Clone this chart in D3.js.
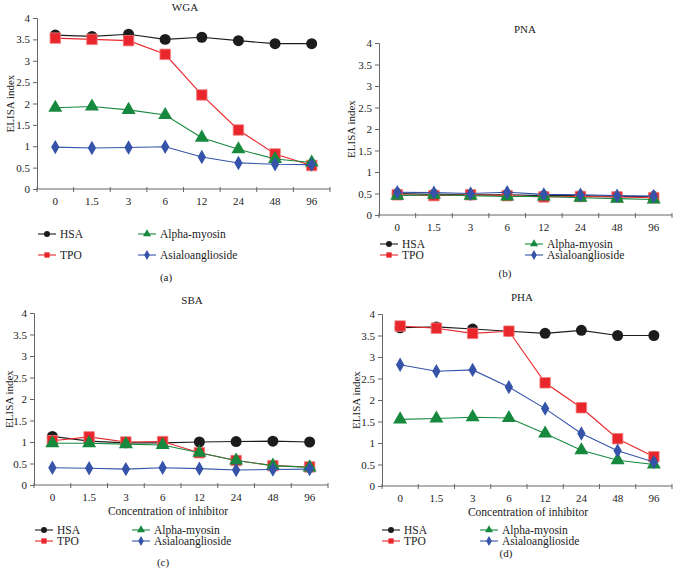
<!DOCTYPE html>
<html>
<head>
<script src="https://d3js.org/d3.v7.min.js"></script>
<style>
  body { margin: 0; background: #fff; }
  text { font-family: "Liberation Serif", "DejaVu Serif", serif; fill: #222; }
</style>
</head>
<body>
<svg width="675" height="578"></svg>
<script>
var categories = ["0", "1.5", "3", "6", "12", "24", "48", "96"];
var yTicks = [0, 0.5, 1, 1.5, 2, 2.5, 3, 3.5, 4];
var seriesNames = ["HSA", "TPO", "Alpha-myosin", "Asialoanglioside"];

// WGA
var wgaHSA   = [3.60, 3.57, 3.62, 3.50, 3.55, 3.47, 3.40, 3.40];
var wgaTPO   = [3.53, 3.50, 3.47, 3.15, 2.20, 1.38, 0.82, 0.55];
var wgaAlpha = [1.90, 1.93, 1.85, 1.73, 1.20, 0.93, 0.70, 0.62];
var wgaAsia  = [0.98, 0.96, 0.97, 0.99, 0.75, 0.61, 0.58, 0.57];
// PNA
var pnaHSA   = [0.50, 0.48, 0.47, 0.47, 0.45, 0.45, 0.43, 0.43];
var pnaTPO   = [0.47, 0.45, 0.47, 0.45, 0.42, 0.43, 0.42, 0.40];
var pnaAlpha = [0.45, 0.47, 0.45, 0.43, 0.43, 0.40, 0.38, 0.36];
var pnaAsia  = [0.53, 0.52, 0.50, 0.53, 0.48, 0.47, 0.45, 0.44];
// SBA
var sbaHSA   = [1.13, 1.02, 0.98, 0.98, 1.00, 1.01, 1.02, 1.00];
var sbaTPO   = [1.03, 1.12, 1.00, 1.01, 0.75, 0.57, 0.45, 0.42];
var sbaAlpha = [0.97, 0.97, 0.95, 0.93, 0.75, 0.57, 0.45, 0.41];
var sbaAsia  = [0.40, 0.39, 0.37, 0.40, 0.38, 0.35, 0.36, 0.37];
// PHA
var phaHSA   = [3.68, 3.70, 3.65, 3.60, 3.55, 3.62, 3.50, 3.50];
var phaTPO   = [3.72, 3.67, 3.55, 3.60, 2.40, 1.82, 1.10, 0.68];
var phaAlpha = [1.55, 1.57, 1.60, 1.58, 1.22, 0.83, 0.60, 0.50];
var phaAsia  = [2.82, 2.67, 2.70, 2.30, 1.80, 1.22, 0.82, 0.56];

var colors = ["#1c1c1c", "#e8262b", "#17893f", "#3553a8"];
var symbols = [d3.symbolCircle, d3.symbolSquare, d3.symbolTriangle, d3.symbolDiamond];
var symSizes = [95, 110, 85, 60];

var panels = [
  { title: "WGA", data: [wgaHSA, wgaTPO, wgaAlpha, wgaAsia], x0: 37, x1: 330, yTop: 18, yBot: 189,
    titleX: 185, titleY: 11, ylabX: 10, xlab: false, legY: [234, 255], legX: [38, 138], cap: "(a)", capX: 166, capY: 281 },
  { title: "PNA", data: [pnaHSA, pnaTPO, pnaAlpha, pnaAsia], x0: 379, x1: 672, yTop: 43, yBot: 215,
    titleX: 525, titleY: 33, ylabX: 351, xlab: false, legY: [244, 255], legX: [380, 525], cap: "(b)", capX: 505, capY: 277 },
  { title: "SBA", data: [sbaHSA, sbaTPO, sbaAlpha, sbaAsia], x0: 34, x1: 328, yTop: 313, yBot: 485,
    titleX: 192, titleY: 304, ylabX: 9, xlab: true, xlabX: 168, legY: [530, 541], legX: [35, 132], cap: "(c)", capX: 163, capY: 566 },
  { title: "PHA", data: [phaHSA, phaTPO, phaAlpha, phaAsia], x0: 382, x1: 672, yTop: 314, yBot: 486,
    titleX: 522, titleY: 301, ylabX: 356, xlab: true, xlabX: 528, legY: [530, 541], legX: [382, 480], cap: "(d)", capX: 506, capY: 557 }
];

var svg = d3.select("svg");

panels.forEach(function(p) {
  var g = svg.append("g");
  var x = d3.scaleBand().domain(categories).range([p.x0, p.x1]);
  var y = d3.scaleLinear().domain([0, 4]).range([p.yBot, p.yTop]);

  // y axis
  var ya = g.append("g").attr("transform", "translate(" + p.x0 + ",0)")
    .call(d3.axisLeft(y).tickValues(yTicks).tickFormat(d3.format("")).tickSize(4).tickPadding(3));
  ya.selectAll("text").style("font-size", "11px").style("font-family", "Liberation Serif");
  ya.selectAll("line,path").attr("stroke", "#666");

  // x axis: ticks at band edges
  var xa = g.append("g").attr("transform", "translate(0," + p.yBot + ")");
  xa.append("line").attr("x1", p.x0).attr("x2", p.x1).attr("stroke", "#666");
  var edges = categories.map(function(c) { return x(c); }).concat([p.x1]);
  xa.selectAll(".tk").data(edges).enter().append("line")
    .attr("x1", function(d) { return d; }).attr("x2", function(d) { return d; })
    .attr("y1", -2).attr("y2", 3).attr("stroke", "#666");
  xa.selectAll(".lb").data(categories).enter().append("text")
    .attr("x", function(d) { return x(d) + x.bandwidth() / 2; })
    .attr("y", 16).attr("text-anchor", "middle").style("font-size", "11px")
    .text(function(d) { return d; });

  g.append("text").attr("x", p.titleX).attr("y", p.titleY).attr("text-anchor", "middle")
    .style("font-size", "11px").text(p.title);

  g.append("text").attr("transform", "translate(" + p.ylabX + "," + ((p.yTop + p.yBot) / 2) + ") rotate(-90)")
    .attr("text-anchor", "middle").attr("dy", "0.35em").style("font-size", "11px").text("ELISA index");

  if (p.xlab) {
    g.append("text").attr("x", p.xlabX).attr("y", p.yBot + 30).attr("text-anchor", "middle")
      .style("font-size", "11.5px").text("Concentration of inhibitor");
  }

  var line = d3.line()
    .x(function(d, i) { return x(categories[i]) + x.bandwidth() / 2; })
    .y(function(d) { return y(d); });

  p.data.forEach(function(vals, k) {
    g.append("path").datum(vals).attr("d", line).attr("fill", "none")
      .attr("stroke", colors[k]).attr("stroke-width", 1.1);
    g.selectAll(".m" + k).data(vals).enter().append("path")
      .attr("transform", function(d, i) {
        return "translate(" + (x(categories[i]) + x.bandwidth() / 2) + "," + y(d) + ")";
      })
      .attr("d", d3.symbol().type(symbols[k]).size(symSizes[k]))
      .attr("fill", colors[k]).attr("stroke", k === 1 ? "#f08080" : "none").attr("stroke-width", 0.8);
  });

  // legend
  seriesNames.forEach(function(name, k) {
    var lx = p.legX[Math.floor(k / 2)];
    var ly = p.legY[k % 2];
    var lg = g.append("g").attr("transform", "translate(" + lx + "," + ly + ")");
    lg.append("line").attr("x1", 0).attr("x2", 18).attr("stroke", colors[k]).attr("stroke-width", 1.1);
    lg.append("path").attr("transform", "translate(9,0)")
      .attr("d", d3.symbol().type(symbols[k]).size(28)).attr("fill", colors[k]);
    lg.append("text").attr("x", 22).attr("dy", "0.35em").style("font-size", "11.5px").text(name);
  });

  g.append("text").attr("x", p.capX).attr("y", p.capY).attr("text-anchor", "middle")
    .style("font-size", "11px").text(p.cap);
});
</script>
</body>
</html>
